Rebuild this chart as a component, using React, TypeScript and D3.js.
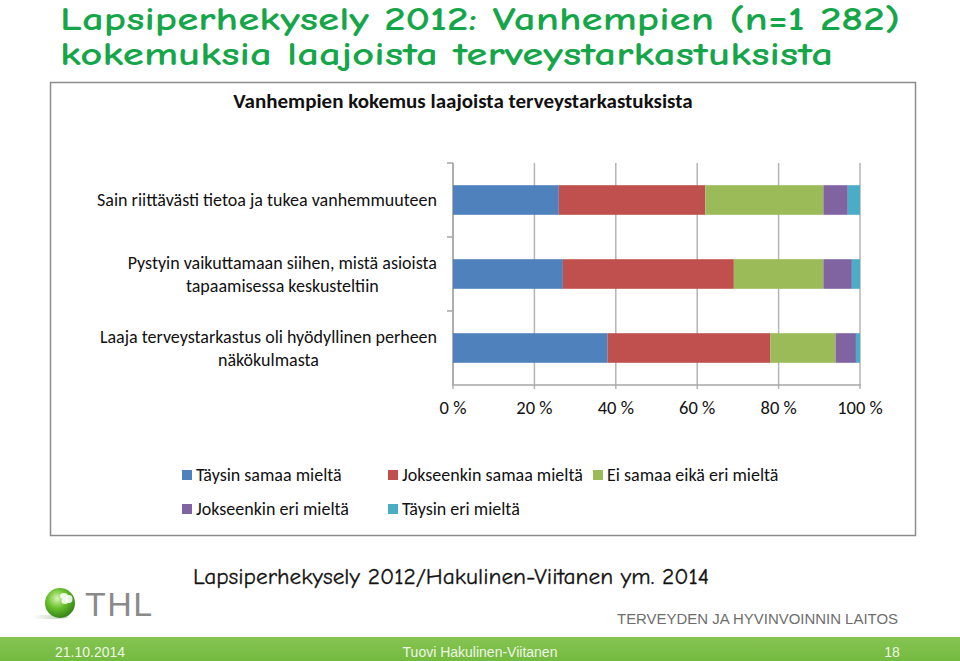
import * as React from "react";
import * as d3 from "d3";

// chart data
const categories = [
  "Sain riittävästi tietoa ja tukea vanhemmuuteen",
  "Pystyin vaikuttamaan siihen, mistä asioista|tapaamisessa keskusteltiin",
  "Laaja terveystarkastus oli hyödyllinen perheen|näkökulmasta",
];
const seriesNames = [
  "Täysin samaa mieltä",
  "Jokseenkin samaa mieltä",
  "Ei samaa eikä eri mieltä",
  "Jokseenkin eri mieltä",
  "Täysin eri mieltä",
];
const taysinSamaa = [26, 27, 38];
const jokseenkinSamaa = [36, 42, 40];
const eiSamaaEikaEri = [29, 22, 16];
const jokseenkinEri = [6, 7, 5];
const taysinEri = [3, 2, 1];
const xTicks = [0, 20, 40, 60, 80, 100];
const colors = ["#4f81bd", "#c0504d", "#9bbb59", "#8064a2", "#4bacc6"];

const chartFont = "Carlito, Lato, 'Open Sans', sans-serif";
const slideFont = "'Liberation Sans', Arial, sans-serif";
const comicFont = "'Comic Neue', 'Comic Sans MS', 'DejaVu Sans', sans-serif";

const App: React.FunctionComponent = () => {
  const svgRef = React.useRef<SVGSVGElement>(null);

  React.useEffect(() => {
    const svg = d3.select(svgRef.current);
    svg.selectAll("*").remove();

    const defs = svg.append("defs");
    const footGrad = defs
      .append("linearGradient")
      .attr("id", "foot-grad")
      .attr("x1", 0)
      .attr("y1", 0)
      .attr("x2", 0)
      .attr("y2", 1);
    footGrad.append("stop").attr("offset", "0%").attr("stop-color", "#86c452");
    footGrad.append("stop").attr("offset", "100%").attr("stop-color", "#74ba40");
    const ball = defs
      .append("radialGradient")
      .attr("id", "ball-grad")
      .attr("cx", "0.4")
      .attr("cy", "0.35")
      .attr("r", "0.7");
    ball.append("stop").attr("offset", "0%").attr("stop-color", "#d9f5b5");
    ball.append("stop").attr("offset", "45%").attr("stop-color", "#6cc22e");
    ball.append("stop").attr("offset", "100%").attr("stop-color", "#2e7d12");
    const shadow = defs
      .append("linearGradient")
      .attr("id", "shadow-grad")
      .attr("x1", 0)
      .attr("x2", 1);
    shadow.append("stop").attr("offset", "0%").attr("stop-color", "#fff");
    shadow.append("stop").attr("offset", "100%").attr("stop-color", "#b9c9b0");

    // slide title
    const title = svg
      .append("text")
      .attr("fill", "#16a64a")
      .attr("font-family", comicFont)
      .attr("font-weight", "bold")
      .attr("font-size", 32);
    title
      .append("tspan")
      .attr("x", 60)
      .attr("y", 30)
      .attr("textLength", 840)
      .attr("lengthAdjust", "spacingAndGlyphs")
      .text("Lapsiperhekysely 2012: Vanhempien (n=1 282)");
    title
      .append("tspan")
      .attr("x", 60)
      .attr("y", 65)
      .attr("textLength", 773)
      .attr("lengthAdjust", "spacingAndGlyphs")
      .text("kokemuksia laajoista terveystarkastuksista");

    // chart frame
    svg
      .append("rect")
      .attr("x", 50.5)
      .attr("y", 82.5)
      .attr("width", 865)
      .attr("height", 453)
      .attr("fill", "#fff")
      .attr("stroke", "#8c8c8c")
      .attr("stroke-width", 1.5);

    svg
      .append("text")
      .attr("x", 463)
      .attr("y", 108)
      .attr("text-anchor", "middle")
      .attr("font-family", chartFont)
      .attr("font-weight", "bold")
      .attr("font-size", 21)
      .attr("fill", "#111")
      .text("Vanhempien kokemus laajoista terveystarkastuksista");

    const plot = { left: 453, right: 860, top: 163, bottom: 385 };
    const x = d3.scaleLinear().domain([0, 100]).range([plot.left, plot.right]);
    const y = d3
      .scaleBand<number>()
      .domain(d3.range(categories.length))
      .range([plot.top, plot.bottom])
      .paddingInner(0.6)
      .paddingOuter(0.3);

    const g = svg.append("g");

    // gridlines
    g.selectAll("line.grid")
      .data(xTicks)
      .enter()
      .append("line")
      .attr("class", "grid")
      .attr("x1", d => x(d))
      .attr("x2", d => x(d))
      .attr("y1", plot.top)
      .attr("y2", plot.bottom + 4)
      .attr("stroke", "#b4b4b4")
      .attr("stroke-width", 1.5);

    // y axis line + category separators
    g.append("line")
      .attr("x1", plot.left)
      .attr("x2", plot.left)
      .attr("y1", plot.top)
      .attr("y2", plot.bottom)
      .attr("stroke", "#a6a6a6")
      .attr("stroke-width", 1.5);
    const sepYs = d3.range(categories.length).map(i => plot.top + y.step() * i);
    g.selectAll("line.sep")
      .data(sepYs)
      .enter()
      .append("line")
      .attr("class", "sep")
      .attr("x1", plot.left - 6)
      .attr("x2", plot.left)
      .attr("y1", d => d)
      .attr("y2", d => d)
      .attr("stroke", "#a6a6a6")
      .attr("stroke-width", 1.5);
    g.append("line")
      .attr("x1", plot.left - 1)
      .attr("x2", plot.right + 1)
      .attr("y1", plot.bottom)
      .attr("y2", plot.bottom)
      .attr("stroke", "#a6a6a6")
      .attr("stroke-width", 1.5);

    // stacked bars
    const rows = categories.map((c, i) => ({
      idx: i,
      s0: taysinSamaa[i],
      s1: jokseenkinSamaa[i],
      s2: eiSamaaEikaEri[i],
      s3: jokseenkinEri[i],
      s4: taysinEri[i],
    }));
    const stack = d3.stack<any>().keys(["s0", "s1", "s2", "s3", "s4"]);
    const layers = stack(rows);
    g.selectAll("g.layer")
      .data(layers)
      .enter()
      .append("g")
      .attr("class", "layer")
      .attr("fill", (d, i) => colors[i])
      .selectAll("rect")
      .data(d => d)
      .enter()
      .append("rect")
      .attr("x", d => x(d[0]))
      .attr("width", d => x(d[1]) - x(d[0]))
      .attr("y", d => y(d.data.idx) as number)
      .attr("height", y.bandwidth());

    // x tick labels
    g.selectAll("text.xt")
      .data(xTicks)
      .enter()
      .append("text")
      .attr("class", "xt")
      .attr("x", d => x(d))
      .attr("y", 414)
      .attr("text-anchor", "middle")
      .attr("font-family", chartFont)
      .attr("font-size", 18.5)
      .attr("fill", "#111")
      .text(d => `${d} %`);

    // category labels (centered lines, block right-aligned)
    categories.forEach((c, i) => {
      const lines = c.split("|");
      const cy = (y(i) as number) + y.bandwidth() / 2;
      const t = g
        .append("text")
        .attr("font-family", chartFont)
        .attr("font-size", 18)
        .attr("fill", "#111");
      const spans = lines.map((l, k) =>
        t
          .append("tspan")
          .attr("y", cy + 6 + (k - (lines.length - 1) / 2) * 23)
          .text(l)
      );
      const widths = spans.map(s => (s.node() as SVGTSpanElement).getComputedTextLength());
      const maxW = d3.max(widths) || 0;
      const center = 437 - maxW / 2;
      spans.forEach(s => s.attr("x", center).attr("text-anchor", "middle"));
    });

    // legend
    const legendItems = [
      { x: 182, y: 475 },
      { x: 388, y: 475 },
      { x: 593, y: 475 },
      { x: 182, y: 509 },
      { x: 388, y: 509 },
    ];
    const lg = svg
      .selectAll("g.leg")
      .data(seriesNames)
      .enter()
      .append("g")
      .attr("class", "leg")
      .attr("transform", (d, i) => `translate(${legendItems[i].x},${legendItems[i].y})`);
    lg.append("rect")
      .attr("x", 0)
      .attr("y", -5)
      .attr("width", 10)
      .attr("height", 10)
      .attr("fill", (d, i) => colors[i]);
    lg.append("text")
      .attr("x", 14)
      .attr("y", 6)
      .attr("font-family", chartFont)
      .attr("font-size", 18)
      .attr("fill", "#111")
      .text(d => d);

    // source
    svg
      .append("text")
      .attr("x", 193)
      .attr("y", 584)
      .attr("font-family", comicFont)
      .attr("font-size", 22)
      .attr("stroke", "#111")
      .attr("stroke-width", 0.3)
      .attr("textLength", 516)
      .attr("lengthAdjust", "spacingAndGlyphs")
      .attr("fill", "#111")
      .text("Lapsiperhekysely 2012/Hakulinen-Viitanen ym. 2014");

    // THL logo
    svg
      .append("ellipse")
      .attr("cx", 50)
      .attr("cy", 617)
      .attr("rx", 18)
      .attr("ry", 2.2)
      .attr("fill", "url(#shadow-grad)");
    svg
      .append("circle")
      .attr("cx", 60)
      .attr("cy", 603)
      .attr("r", 15)
      .attr("fill", "url(#ball-grad)");
    [
      [64, 596, 4, 3],
      [69, 599, 3.5, 4],
      [65, 601, 3.5, 3],
    ].forEach(([cx, cy, rx, ry]) =>
      svg
        .append("ellipse")
        .attr("cx", cx)
        .attr("cy", cy)
        .attr("rx", rx)
        .attr("ry", ry)
        .attr("fill", "#fff")
        .attr("opacity", 0.85)
    );
    svg
      .append("text")
      .attr("x", 85)
      .attr("y", 616)
      .attr("font-family", slideFont)
      .attr("font-size", 34)
      .attr("letter-spacing", 1.5)
      .attr("fill", "#8a8a8a")
      .text("THL");
    svg
      .append("text")
      .attr("x", 617)
      .attr("y", 624)
      .attr("font-family", slideFont)
      .attr("font-size", 15)
      .attr("textLength", 281)
      .attr("lengthAdjust", "spacingAndGlyphs")
      .attr("fill", "#6e6e6e")
      .text("TERVEYDEN JA HYVINVOINNIN LAITOS");

    // footer bar
    svg
      .append("rect")
      .attr("x", 0)
      .attr("y", 637)
      .attr("width", 960)
      .attr("height", 24)
      .attr("fill", "url(#foot-grad)");
    const foot = [
      { x: 90, t: "21.10.2014" },
      { x: 480, t: "Tuovi Hakulinen-Viitanen" },
      { x: 892, t: "18" },
    ];
    svg
      .selectAll("text.foot")
      .data(foot)
      .enter()
      .append("text")
      .attr("class", "foot")
      .attr("x", d => d.x)
      .attr("y", 657)
      .attr("text-anchor", "middle")
      .attr("font-family", slideFont)
      .attr("font-size", 14)
      .attr("fill", "#eef6e6")
      .text(d => d.t);
  }, []);

  return (
    <svg
      ref={svgRef}
      width={960}
      height={661}
      style={{ position: "absolute", left: 0, top: 0, background: "#fff" }}
    />
  );
};

export default App;
